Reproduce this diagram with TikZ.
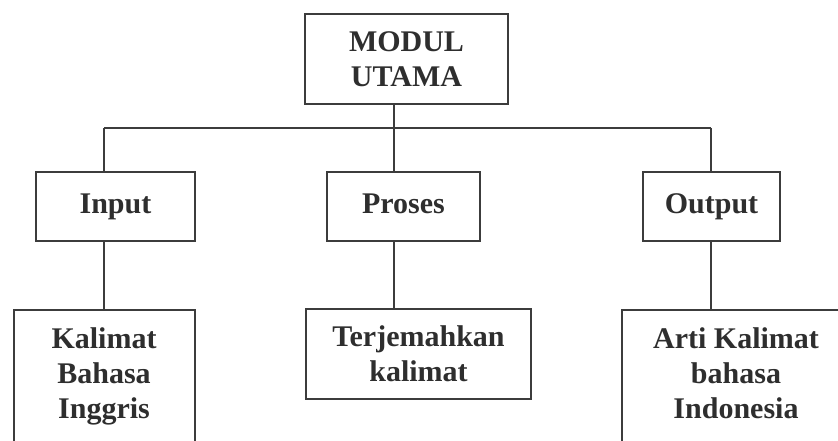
\documentclass[tikz,border=0pt]{standalone}
\usepackage{fontspec}
\setmainfont{Liberation Serif}
\definecolor{linec}{HTML}{3C3C3C}
\definecolor{txtc}{HTML}{2E2E2E}
\begin{document}
\begin{tikzpicture}[x=1pt,y=1pt,
  box/.style={draw=linec, line width=1.6pt, inner sep=0pt},
  lbl/.style={font=\fontsize{30}{35}\selectfont\bfseries, text=txtc, align=center, inner sep=0pt},
  oneline/.style={text height=20pt, text depth=7pt},
  link/.style={draw=linec, line width=1.6pt}]
\useasboundingbox (0,0) rectangle (838,-441);
\clip (0,0) rectangle (838,-441);

% top module
\node[box, lbl, minimum width=203, minimum height=90] (top) at (406.5,-59) {MODUL\\UTAMA};

% second level
\node[box, lbl, oneline, minimum width=159, minimum height=69] (inp) at (115.5,-206.5) {Input};
\node[box, lbl, oneline, minimum width=153, minimum height=69] (pro) at (403.5,-206.5) {Proses};
\node[box, lbl, oneline, minimum width=137, minimum height=69] (out) at (711.5,-206.5) {Output};

% third level (the outer two run past the lower edge)
\node[box, lbl, minimum width=225, minimum height=90] (ter) at (418.5,-354) {Terjemahkan\\kalimat};
\node[box, minimum width=181, minimum height=160, anchor=north west] (kal) at (13,-309) {};
\node[lbl, anchor=base] (kalt) at (104,-418) {Kalimat\\Bahasa\\Inggris};
\node[box, minimum width=230, minimum height=160, anchor=north west] (art) at (621,-309) {};
\node[lbl, anchor=base] (artt) at (736,-418) {Arti Kalimat\\bahasa\\Indonesia};

% bus line columns
\coordinate (cL) at (104,-128);
\coordinate (cM) at (394,-128);
\coordinate (cR) at (711,-128);

\draw[link] (top.south -| cM) -- (cM);
\draw[link] (cL) -- (cR);
\draw[link] (cL) -- (cL |- inp.north);
\draw[link] (cM) -- (cM |- pro.north);
\draw[link] (cR) -- (cR |- out.north);
\draw[link] (inp.south -| cL) -- (cL |- kal.north);
\draw[link] (pro.south -| cM) -- (cM |- ter.north);
\draw[link] (out.south -| cR) -- (cR |- art.north);
\end{tikzpicture}
\end{document}
